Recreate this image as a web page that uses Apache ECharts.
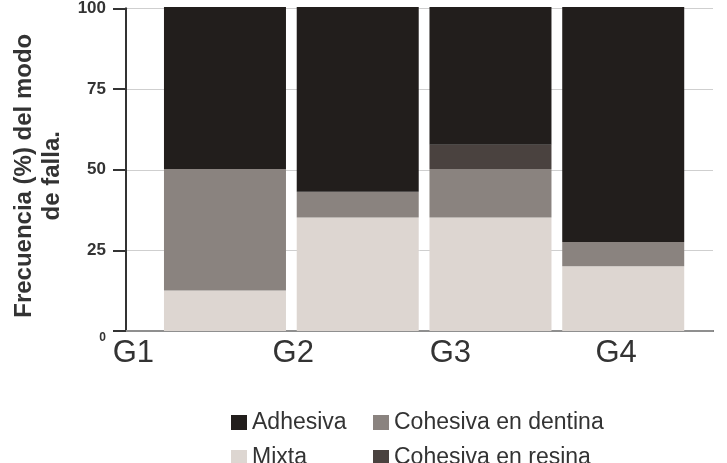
<!DOCTYPE html>
<html>
<head>
    <meta charset="utf-8">
    <title>Modo de falla</title>
    <script src="https://cdn.jsdelivr.net/npm/echarts@6/dist/echarts.min.js"></script>
    <style>
        html, body {
            margin: 0;
            width: 100%;
            height: 100%;
            background: #fff;
        }

        #main {
            width: 727px;
            height: 463px;
        }
    </style>
</head>
<body>
<div id="main"></div>
<script type="text/javascript">
    var myChart = echarts.init(document.getElementById('main'));

    // datos (% por grupo)
    const grupos = ['G1', 'G2', 'G3', 'G4'];
    const posEtiquetas = [0.05, 1.14, 2.21, 3.34];   // donde caen G1..G4 en el eje inferior
    const yTicks = [0, 25, 50, 75, 100];
    const mixta = [12.5, 35, 35, 20];
    const dentina = [37.5, 8, 15, 7.5];
    const resina = [0, 0, 7.5, 0];
    const adhesiva = [50, 57, 42.5, 72.5];

    const colores = {
        'Adhesiva': '#221e1c',
        'Cohesiva en dentina': '#8a837f',
        'Mixta': '#ddd6d1',
        'Cohesiva en resina': '#4a423f'
    };

    const serie = (name, data) => ({
        name: name,
        type: 'bar',
        stack: 'total',
        xAxisIndex: 2,
        yAxisIndex: 2,
        barWidth: 122,
        itemStyle: {color: colores[name]},
        data: data
    });

    // leyenda en 2 columnas: una leyenda por elemento
    const leyenda = (name, left, top) => ({
        left: left,
        top: top,
        icon: 'rect',
        itemWidth: 16,
        itemHeight: 15,
        textStyle: {fontSize: 23, lineHeight: 23, color: '#333'},
        data: [name]
    });

    var option = {
        animation: false,
        textStyle: {fontFamily: 'Liberation Sans, Arial, sans-serif'},
        legend: [
            leyenda('Adhesiva', 226, 406),
            leyenda('Mixta', 226, 441),
            leyenda('Cohesiva en dentina', 368, 406),
            leyenda('Cohesiva en resina', 368, 441)
        ],
        grid: [
            {left: 126, right: 14, top: 7, bottom: 132},
            {left: 158.6, width: 531, top: 7, bottom: 132}
        ],
        xAxis: [{
            gridIndex: 0,
            type: 'value',
            min: 0,
            max: 4,
            position: 'bottom',
            axisLine: {show: true, lineStyle: {color: '#333', width: 2}},
            axisTick: {show: false},
            splitLine: {show: false},
            axisLabel: {
                customValues: posEtiquetas,
                margin: 7,
                fontFamily: 'Liberation Sans Narrow, Liberation Sans, sans-serif',
                fontSize: 31,
                lineHeight: 31,
                color: '#333',
                formatter: function (v) {
                    var i = posEtiquetas.indexOf(v);
                    return i >= 0 ? grupos[i] : '';
                }
            }
        }, {
            gridIndex: 0,
            type: 'value',
            min: 0,
            max: 4,
            position: 'top',
            axisLine: {show: true, lineStyle: {color: '#8f8f8f', width: 2}},
            axisTick: {show: false},
            axisLabel: {show: false},
            splitLine: {show: false}
        }, {
            gridIndex: 1,
            type: 'category',
            data: grupos,
            show: false
        }],
        yAxis: [{
            gridIndex: 0,
            type: 'value',
            min: 0,
            max: 100,
            interval: 25,
            name: 'Frecuencia (%) del modo\nde falla.',
            nameLocation: 'middle',
            nameGap: 60,
            nameTextStyle: {
                fontSize: 24,
                fontWeight: 'bold',
                lineHeight: 28,
                color: '#333',
                padding: [0, 12, 0, 0]
            },
            axisLine: {show: true, lineStyle: {color: '#333', width: 2}},
            axisTick: {show: true, inside: false, length: 13, lineStyle: {color: '#333', width: 2}},
            splitLine: {show: true, lineStyle: {color: '#cfcfcf', width: 1}},
            axisLabel: {
                margin: 20,
                fontSize: 17,
                fontWeight: 'bold',
                color: '#333',
                formatter: function (v) {
                    return v === yTicks[0] ? '{z|0}' : String(v);
                },
                rich: {
                    z: {fontSize: 12, fontWeight: 'bold', color: '#333', padding: [14, 0, 0, 0]}
                }
            }
        }, {
            gridIndex: 0,
            type: 'value',
            min: 0,
            max: 100,
            position: 'right',
            axisLine: {show: true, lineStyle: {color: '#333', width: 2}},
            axisTick: {show: false},
            axisLabel: {show: false},
            splitLine: {show: false}
        }, {
            gridIndex: 1,
            type: 'value',
            min: 0,
            max: 100,
            show: false,
            splitLine: {show: false}
        }],
        series: [
            serie('Mixta', mixta),
            serie('Cohesiva en dentina', dentina),
            serie('Cohesiva en resina', resina),
            serie('Adhesiva', adhesiva)
        ]
    };

    myChart.setOption(option);
</script>
</body>
</html>
